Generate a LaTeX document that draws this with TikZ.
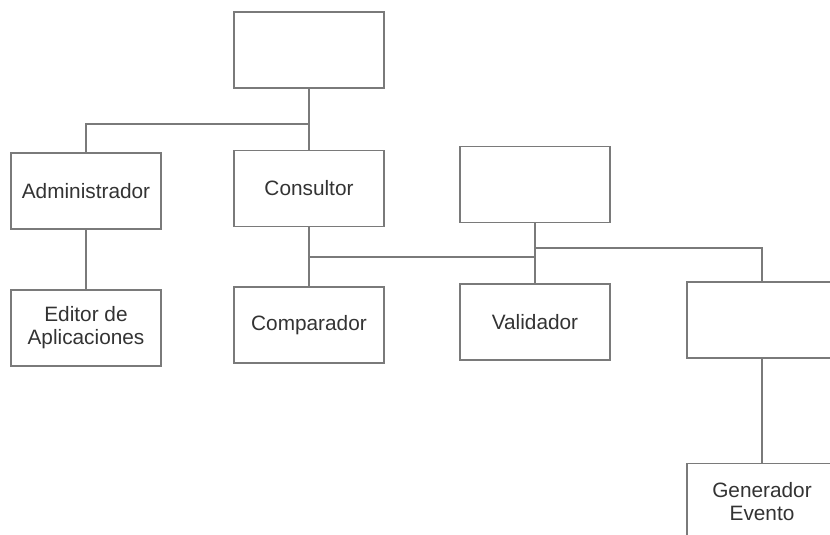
\documentclass[tikz,border=0pt]{standalone}
\usepackage{fontspec}
\setmainfont{Liberation Sans}
\definecolor{linecol}{HTML}{7A7A7A}
\definecolor{txtcol}{HTML}{333333}
\begin{document}
\begin{tikzpicture}[x=0.5pt,y=-0.5pt,
  box/.style={draw=linecol, line width=0.75pt, rectangle, minimum width=75pt, minimum height=38pt,
    inner sep=0pt, align=center, text=txtcol, font=\fontsize{10.4}{11.6}\selectfont},
  conn/.style={draw=linecol, line width=0.7pt}]
\useasboundingbox (0,0) rectangle (830,535);
\clip (0,0) rectangle (830,535);
\fill[white] (0,0) rectangle (830,535);
\node[box] (top) at (309,50) {};
\node[box] (adm) at (86,191) {Administrador};
\node[box] (con) at (309,188.5) {Consultor};
\node[box] (edi) at (86,328) {Editor de\\Aplicaciones};
\node[box] (com) at (309,325) {Comparador};
\node[box] (upr) at (535,184.5) {};
\node[box] (val) at (535,322) {Validador};
\node[box] (rbx) at (762,320) {};
\node[box] (gen) at (762,501.5) {Generador\\Evento};
\coordinate (j1) at (309,124);
\coordinate (j2) at (309,257);
\coordinate (j3) at (535,248);
\draw[conn] (top) -- (con);
\draw[conn] (j1) -| (adm);
\draw[conn] (adm) -- (edi);
\draw[conn] (con) -- (com);
\draw[conn] (j2) -- (j2 -| upr.south);
\draw[conn] (upr) -- (val);
\draw[conn] (j3) -| (rbx);
\draw[conn] (rbx) -- (gen);
\end{tikzpicture}
\end{document}
